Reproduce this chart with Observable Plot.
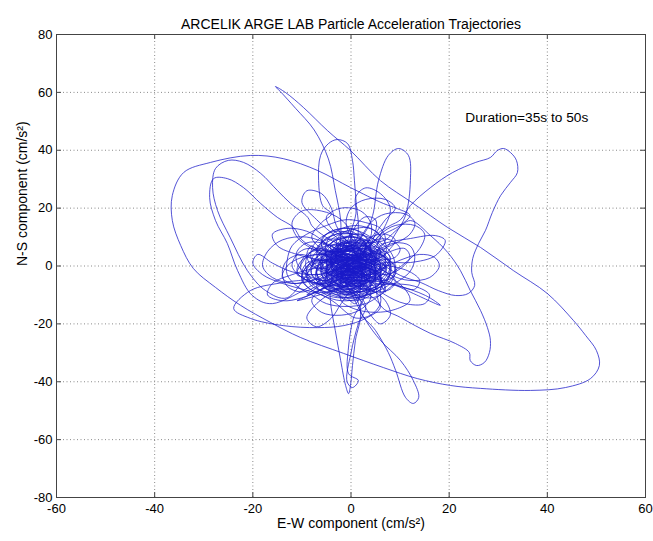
<!DOCTYPE html>
<html>
<head>
<meta charset="utf-8">
<script src="https://cdn.jsdelivr.net/npm/d3@7"></script>
<script src="https://cdn.jsdelivr.net/npm/@observablehq/plot@0.6"></script>
<style>
  html, body { margin: 0; padding: 0; background: #fff; }
</style>
</head>
<body>
<div id="chart"></div>
<script>
// ---- texts ----
const titleText = "ARCELIK ARGE LAB Particle Acceleration Trajectories";
const xLabel = "E-W component (cm/s²)";
const yLabel = "N-S component (cm/s²)";
const noteText = "Duration=35s to 50s";

// ---- axes ----
const xTicks = [-60, -40, -20, 0, 20, 40, 60];
const yTicks = [-80, -60, -40, -20, 0, 20, 40, 60, 80];

// ---- trajectory, [E-W, N-S] in cm/s^2, traced in order ----
// dense central tangle
const d1 = [[-2,1],[-4,3],[-3,6],[0,7],[2,5],[1,2],[-1,0],[-3,-2],[-2,-5],[1,-6],[4,-4],[5,-1],[3,2],[0,3],[-2,2],[-5,0],[-7,-2],[-6,-5],[-3,-7],[0,-6],[2,-3],[3,0],[5,3],[7,5],[8,2],[6,-2],[3,-3],[0,-1],[-2,3],[-3,7],[-1,10],[2,11],[4,8],[3,5],[0,4],[-3,3],[-6,4],[-8,7],[-9,4],[-8,0],[-5,-1],[-2,-2],[1,-2],[3,-5],[2,-8],[-1,-9],[-3,-6],[-4,-3],[-3,0],[0,1],[3,3],[6,2],[7,-1],[5,-5],[2,-6],[-1,-4],[-1,-1],[1,2],[4,5],[3,9]];
const d2 = [[1,9],[-2,8],[-4,5],[-5,2],[-4,-1],[-1,-3],[2,-4],[4,-2],[4,1],[2,4],[-1,5],[-4,4],[-6,1],[-6,-3],[-4,-6],[-1,-8],[3,-9],[6,-7],[8,-3],[8,1],[6,4],[3,6],[0,6],[-2,4],[-2,1],[0,-1],[2,0],[2,3],[0,5],[-3,6],[-6,8],[-9,8],[-11,5],[-11,1],[-9,-3],[-6,-5],[-3,-5],[0,-3],[1,0],[-1,2],[-4,1],[-5,-2],[-3,-4],[0,-4],[3,-2],[5,1],[6,5],[4,8],[1,8],[-1,6]];
const d3 = [[-2,3],[-1,0],[1,-2],[4,-3],[6,0],[5,3],[2,4],[-1,3],[-3,0],[-4,-4],[-2,-7],[1,-8],[4,-7],[5,-4],[3,-1],[0,0],[-3,1],[-6,3],[-7,6],[-5,9],[-2,9],[0,7],[1,4],[3,2],[6,3],[8,6],[9,9],[7,11],[4,10],[2,7],[1,3],[-1,-1],[-3,-4],[-5,-6],[-8,-6],[-10,-3],[-9,1],[-6,2],[-3,0],[0,-2],[3,-4],[5,-7],[4,-10],[1,-12],[-2,-11],[-3,-8],[-1,-5],[2,-4],[4,-1],[4,3]];
const d4 = [[2,5],[-1,6],[-3,4],[-3,1],[-1,-1],[2,-1],[3,1],[2,3],[-1,3],[-4,2],[-7,0],[-9,-3],[-8,-7],[-5,-9],[-2,-10],[1,-9],[2,-6],[0,-4],[-2,-2],[-2,1],[0,3],[3,5],[5,7],[6,10],[4,13],[1,13],[-2,11],[-3,8],[-2,5],[1,2],[4,0],[7,-2],[9,-5],[8,-8],[5,-9],[2,-7],[0,-4],[-1,0],[-3,3],[-5,5],[-8,5],[-10,2],[-10,-2],[-7,-3],[-4,-2],[-1,0],[1,2],[1,5],[-1,7],[-4,7]];
const d5 = [[-6,5],[-6,2],[-4,0],[-1,-1],[1,-3],[1,-6],[-1,-7],[-4,-6],[-5,-3],[-4,0],[-1,2],[2,3],[5,3],[7,1],[7,-2],[5,-4],[2,-4],[0,-2],[-1,1],[0,4],[3,6],[5,5],[5,2],[3,-1],[0,-3],[-3,-3],[-6,-1],[-8,2],[-8,6],[-6,10],[-3,12],[0,11],[1,8],[0,5],[-2,3],[-5,2],[-7,-1],[-7,-5],[-5,-8],[-2,-9],[1,-8],[3,-5],[3,-2],[1,0],[-1,-1],[-2,-4],[0,-6],[3,-6],[5,-3],[5,1]];
const d6 = [[4,4],[1,5],[-2,5],[-4,3],[-4,0],[-2,-2],[1,-2],[3,0],[3,3],[1,5],[-2,7],[-5,7],[-7,5],[-8,2],[-7,-1],[-4,-3],[-1,-4],[2,-5],[5,-5],[7,-3],[7,0],[5,2],[2,2],[0,0],[-1,-3],[-3,-5],[-6,-6],[-9,-5],[-11,-2],[-10,2],[-7,4],[-4,4],[-1,3],[2,1],[4,-1],[6,-4],[6,-8],[3,-10],[0,-10],[-2,-7],[-2,-4],[0,-1],[3,1],[6,2],[9,3],[10,6],[8,9],[5,9],[3,6],[2,3]];
const d7 = [[0,2],[-2,0],[-2,-3],[0,-5],[3,-5],[4,-2],[2,1],[-1,2],[-4,1],[-5,-1],[-4,-4],[-1,-6],[2,-7],[4,-6],[5,-3],[4,0],[1,1],[-2,0],[-4,-2],[-6,-4],[-7,-7],[-5,-10],[-2,-11],[1,-10],[2,-7],[1,-4],[-1,-2],[-3,1],[-4,4],[-3,7],[0,8],[3,7],[4,4],[3,1],[0,-1],[-3,0],[-5,3],[-5,6],[-3,9],[0,10],[3,9],[5,6],[7,3],[9,0],[9,-3],[7,-5],[4,-4],[2,-2],[0,0],[-2,2]];
const d8 = [[-3,4],[-2,7],[1,8],[3,6],[2,3],[0,1],[-3,-1],[-5,-3],[-5,-6],[-3,-8],[0,-8],[2,-5],[2,-2],[0,0],[-3,2],[-6,2],[-8,0],[-8,-3],[-6,-5],[-3,-4],[0,-2],[3,0],[5,2],[6,5],[5,8],[2,9],[-1,8],[-2,5],[-1,2],[1,0],[4,-1],[6,-3],[6,-6],[4,-8],[1,-9],[-2,-8],[-3,-5],[-2,-2],[1,-1],[3,1],[3,4],[1,6],[-2,6],[-4,4],[-4,1],[-2,-1],[1,-1],[3,-3],[3,-6],[1,-7]];
const d9 = [[-1,-6],[-2,-3],[-1,0],[1,2],[4,2],[6,0],[6,-3],[4,-5],[1,-5],[-2,-4],[-4,-1],[-4,2],[-2,5],[1,6],[4,5],[5,2],[4,-1],[2,-3],[-1,-3],[-3,-1],[-4,2],[-6,5],[-9,6],[-11,4],[-12,0],[-10,-4],[-7,-6],[-4,-7],[-1,-5],[0,-2],[-1,1],[-3,3],[-3,6],[-1,8],[2,8],[4,6],[5,3],[3,0],[0,-1],[-2,-3],[-1,-6],[2,-8],[5,-8],[7,-6],[8,-2],[7,2],[4,4],[1,3],[-1,1],[-2,-2]];
const d10 = [[-1,-4],[1,-4],[3,-2],[2,1],[0,2],[-3,2],[-5,0],[-5,-3],[-3,-6],[0,-7],[3,-6],[4,-3],[3,0],[1,2],[-2,3],[-4,5],[-4,8],[-2,10],[1,10],[3,8],[3,5],[1,2],[-1,-1],[-2,-4],[-4,-6],[-7,-6],[-9,-4],[-9,-1],[-7,1],[-4,1],[-1,0],[2,-1],[5,-2],[7,0],[8,3],[6,6],[3,7],[0,5],[-1,2],[0,-1],[2,-3],[5,-4],[7,-7],[6,-10],[3,-11],[0,-9],[-1,-6],[0,-3],[2,-1],[3,2]];
const d11 = [[3,3],[6,6],[9,8],[12,7],[13,3],[12,-2],[9,-6],[6,-10],[3,-13],[-1,-14],[-5,-13],[-8,-10],[-11,-7],[-13,-3],[-13,2],[-12,7],[-9,11],[-5,14],[-1,16],[3,15],[6,13],[7,9],[5,5],[2,2]];
const d12 = [[-1,0],[-4,-3],[-8,-5],[-12,-6],[-14,-4],[-13,0],[-10,3],[-6,4],[-2,3],[2,0],[6,-4],[10,-7],[13,-8],[14,-5],[12,-2],[8,0],[4,1],[1,4],[0,9],[1,14],[3,17],[5,16],[5,12],[3,7]];
const d13 = [[0,0],[-3,4],[-7,6],[-9,3],[-9,-2],[-7,-6],[-3,-9],[1,-10],[5,-8],[8,-5],[9,0],[8,5],[5,9],[1,11],[-3,11],[-6,8],[-5,4],[-2,1],[2,0],[5,-2],[6,-6],[3,-8],[0,-6],[-2,-3],[-1,1],[2,4],[5,5],[7,2],[6,-2]];
const d14 = [[4,-4],[1,-3],[-2,0],[-5,2],[-8,1],[-10,-3],[-9,-7],[-6,-10],[-2,-12],[2,-11],[4,-8],[3,-4],[0,-2],[-3,-1],[-5,3],[-5,8],[-3,12],[1,14],[5,12],[7,8],[7,4],[5,1],[2,-1],[-1,0],[-3,3],[-2,6],[1,7]];
const d15 = [[1,1],[-1,3],[-3,2],[-4,-1],[-2,-3],[1,-3],[2,-1],[1,2],[-2,4],[-5,5],[-6,2],[-5,-2],[-2,-4],[2,-5],[5,-3],[6,1],[4,4],[1,4],[-1,1],[0,-2],[3,-1],[4,2],[2,6],[-1,8],[-4,7],[-5,4],[-3,1],[0,-1],[3,-3],[4,-6],[2,-9],[-2,-9],[-4,-6],[-3,-3],[0,-1],[2,1],[0,3]];
const d16 = [[-1,2],[-3,0],[-2,-3],[1,-4],[3,-1],[2,2],[-1,3],[-3,5],[-2,8],[1,9],[3,7],[2,4],[0,2],[-2,0],[-4,-3],[-6,-6],[-4,-8],[-1,-7],[1,-5],[4,-5],[6,-3],[5,0],[3,1],[1,-1],[-1,-4],[-3,-6],[-5,-4],[-6,0],[-4,3],[-1,4],[2,3],[3,0]];

// medium loops around the tangle
const m1 = [[0,3],[-4,7],[-9,10],[-14,9],[-17,5],[-18,0],[-16,-4],[-12,-6],[-8,-5],[-5,-2],[-3,2],[-1,6],[0,11],[-2,16],[-6,19],[-10,19],[-12,15],[-11,10],[-8,6],[-4,3],[0,1],[4,-1],[8,-4],[11,-8],[12,-12],[9,-15],[5,-16],[1,-15],[-2,-12],[-2,-8],[0,-5]];
const m2 = [[2,-3],[6,-1],[10,2],[14,4],[17,3],[18,0],[16,-4],[12,-5],[8,-3],[5,1],[4,6],[5,11],[7,16],[9,20],[7,23],[3,23],[0,20],[-1,15],[0,10],[2,5],[1,0],[-2,-4],[-6,-8],[-10,-11],[-14,-12],[-17,-10],[-16,-6],[-12,-3],[-8,-1],[-4,0]];
const m3 = [[0,2],[-2,1],[-6,2],[-11,4],[-15,7],[-16,11],[-13,13],[-9,12],[-6,9],[-3,4],[0,-1],[3,-6],[4,-11],[2,-15],[-2,-17],[-6,-16],[-8,-12],[-6,-8],[-2,-6],[3,-5],[8,-6],[13,-7],[16,-10],[15,-13],[11,-13],[7,-10],[4,-6],[2,-1],[1,4],[-1,9],[-4,13],[-5,17],[-2,20],[2,19],[4,15],[4,10],[2,5]];
const m4 = [[0,2],[-3,-1],[-7,-3],[-12,-2],[-16,1],[-19,4],[-20,1],[-18,-3],[-14,-6],[-10,-8],[-6,-10],[-3,-13],[-1,-16],[1,-18],[4,-17],[6,-13],[6,-8],[8,-3],[11,1],[14,6],[15,11],[13,14],[9,14],[6,11],[4,7],[2,4]];
const m5 = [[1,2],[4,4],[8,7],[12,11],[13,15],[11,18],[7,18],[4,15],[2,10],[0,6],[-3,3],[-7,2],[-10,4],[-13,2],[-14,-2],[-13,-7],[-10,-9],[-7,-7],[-4,-4],[-1,-2],[3,-2],[7,-3],[10,-1],[12,3],[11,6],[8,5],[5,2],[2,0]];
const m6 = [[0,5],[-3,10],[-7,16],[-10,22],[-9,26],[-6,25],[-4,20],[-3,14],[-1,9],[2,6],[5,9],[7,14],[8,20],[6,25],[3,27],[1,24],[1,18],[0,12],[-1,6]];
const m7 = [[0,-3],[-3,-8],[-7,-13],[-9,-18],[-7,-21],[-4,-18],[-2,-13],[0,-9],[2,-12],[4,-17],[6,-20],[8,-17],[7,-12],[4,-8],[1,-5]];

// tangle leading into excursions
const c1 = [[0,0],[3,2],[5,-1],[3,-4],[-1,-5],[-4,-2],[-5,2],[-2,6],[2,7],[6,5],[8,1],[7,-4],[4,-8],[-1,-9],[-5,-7],[-8,-3],[-7,3],[-4,8],[0,10],[3,8],[4,4],[2,1],[-1,2],[-3,4],[-6,6],[-8,10],[-6,15],[-4,18]];
const c2 = [[2,9],[4,5],[7,3],[9,-1],[8,-6],[5,-9],[1,-11],[-3,-10],[-6,-6],[-7,-1],[-5,4],[-2,6],[1,4],[2,0],[0,-3],[-3,-2],[-4,1],[-2,3],[2,3],[5,6],[6,10],[10,14],[12,17.5],[9.5,19.8]];
const c3 = [[-1,10],[-3,6],[-6,3],[-9,0],[-10,-5],[-7,-9],[-3,-8],[0,-5],[2,-1],[1,3],[-2,4],[-4,1],[-3,-3],[1,-4],[5,-2],[7,2],[6,7],[3,11],[-1,13],[-5,11],[-6,7],[-3,5],[1,6],[4,9],[6,12],[8,14]];
const c4 = [[7,-1],[4,2],[0,4],[-4,5],[-7,3],[-9,-1],[-8,-6],[-4,-10],[1,-11],[5,-8],[6,-4],[4,0],[1,1],[-2,-1],[-3,-4],[-1,-7],[3,-6],[5,-2],[4,3],[1,6],[-3,8],[-6,11],[-8,14],[-8.8,16.8]];
const c5 = [[-9,-10],[-5,-7],[-2,-3],[0,1],[3,4],[6,4],[8,0],[7,-5],[3,-7],[-1,-6],[-4,-3],[-5,1],[-3,5],[0,7],[4,8],[7,9],[9,12],[12.1,15.7]];
const c6 = [[3,-10],[0,-7],[-3,-4],[-6,-1],[-6,3],[-3,6],[0,5],[2,2],[1,-2],[-2,-3],[-5,-1],[-7,4],[-6,8],[-3,11],[0,12],[2,9],[0,6],[-3,5],[-7,6],[-10,9],[-11.7,13.3]];
const c7 = [[-11,-12],[-7,-9],[-3,-6],[1,-5],[4,-2],[5,2],[3,5],[-1,5],[-4,2],[-5,-2],[-3,-6],[0,-8],[2,-6],[1,-3],[-2,-1],[-4,-5],[-4.2,-11.9]];
const c8 = [[3,-8],[5,-3],[4,2],[1,5],[-3,5],[-6,2],[-7,-3],[-5,-8],[-1,-10],[2,-12],[0.5,-18],[-0.5,-28],[-0.5,-37.2],[1.5,-39.6],[0.3,-42.0],[-0.8,-40],[0,-30],[1.5,-20],[3,-14],[1,-9],[-2,-6],[-1,-2],[2,0],[5,-3],[4,-7],[1.9,-15.4]];
const c9 = [[1,-13],[-2,-9],[-5,-6],[-6,-1],[-4,3],[0,4],[3,1],[4,-3],[2,-6],[-1,-5],[-3,-2],[-2,2],[1,3],[3,6],[2,10],[-2,11],[-5,8],[-8,5],[-10,1],[-11,-3],[-8.2,-4.3]];
const c10 = [[7,-9],[6,-4],[3,0],[0,2],[-3,1],[-5,-3],[-4,-7],[0,-8],[3,-5],[4,-1],[2,3],[-1,4],[-4,6],[-6,9],[-4,12],[0,13],[3,10],[4,6],[6,-1],[6.0,-5.0]];
const c11 = [[2,-4],[-1,-1],[-2,3],[0,6],[3,7],[5,4],[6.0,7.1]];
const c12 = [[3,-1],[0,-3],[-3,-2],[-4,2],[-2,5],[1,8],[3,12],[4.4,17.4]];
const c13 = [[7,6],[4,3],[1,0],[-2,-2],[-4,0],[-3,3],[0,2],[2,-1],[0,-4],[-3,-5]];

// large excursions
const upperLoop = [[-5.8,20.9],[-6.6,29.5],[-6.2,38.2],[-4.6,42.3],[-2.8,43.7],[-0.7,42.3],[0.3,36.5],[0.7,29.5],[1.1,20.9],[1.5,14]];
const bigLoop = [[6.6,21.6],[-0.1,27.1],[-6.8,33.0],[-13.8,37.1],[-20.5,38.2],[-28.6,35.8],[-34.1,32.3],[-36.4,24.4],[-36.4,15.7],[-34.7,7.1],[-32.1,-0.9],[-27.6,-7.4],[-22.5,-13.6],[-16.4,-19.5],[-10.3,-24.7],[-1.5,-30.2],[6.6,-35.1],[13.5,-38.9],[20.3,-41.3],[26.4,-42.3],[36.6,-43.0],[43.7,-42.0],[48.8,-38.9],[50.6,-34.4],[50.0,-29.2],[47.8,-24.0],[45.3,-18.8],[40.0,-9.5],[33.1,-1.6],[26.4,6.4],[19.7,13.3],[12.7,21.6],[6.0,29.5],[-0.1,39.9],[-4.8,46.8],[-9.7,54.8],[-13.3,59.9],[-15.4,62.0],[-14.4,60.3],[-11.3,54.5],[-7.5,47],[-4.6,37],[-3.2,26.1],[-2.1,15.7]];
const dogHead = [[10.1,16],[12.1,20.9],[16.2,27.1],[20.7,32.3],[25.4,35.8],[28.4,37.5],[29.8,39.9],[31.1,40.6],[32.5,39.2],[33.7,36.5],[33.9,32.3],[32.5,28.9],[30.5,24.4],[28.8,18.5],[27.4,12.3],[26.0,7.8],[24.8,2.6],[24.6,-2.2],[25.2,-6.7],[23.9,-9.5],[21.3,-10.2],[17.8,-8.5],[14.2,-5.7],[10.1,-3.3]];
const leftLoopOuter = [[-12.3,21.6],[-15.0,26.1],[-18.4,32.0],[-21.9,35.8],[-25.0,36.5],[-27.6,33.7],[-28.2,27.1],[-27.2,19.2],[-24.6,9.8],[-21.1,-1.6],[-17.4,-8.5],[-13,-11]];
const bootLoop = [[16.2,10.5],[19.7,4.7],[22.3,-1.6],[24.3,-8.5],[26.4,-15.4],[27.8,-21.3],[28.4,-25.7],[28.2,-29.9],[27.2,-33.3],[25.6,-34.4],[24.3,-32.7],[24.1,-29.9],[21.3,-26.8],[16.2,-23.3],[10.1,-17.8],[6.0,-13.6]];
const leftLoopInner = [[-15.0,16.8],[-18.4,21.6],[-21.9,27.1],[-25.2,30.2],[-28.0,30.2],[-28.8,23.7],[-27.6,15.7],[-25.2,7.8],[-23.1,-1.6],[-20.1,-10.2],[-16,-13]];
const bottomSpike = [[-3.2,-22.3],[-2.1,-32.7],[-1.1,-41.3],[-0.5,-44.1],[-0.1,-41.3],[0.3,-34.4],[0.9,-25.7],[1.9,-15.4]];
const dropLoop = [[5.0,-22.3],[7.6,-29.9],[9.1,-36.1],[11.1,-45.4],[12.7,-47.5],[13.8,-45.4],[12.7,-39.6],[10.1,-32.7],[6.0,-25.7],[3.0,-18.8]];
const lowerLeftLoop = [[-13.8,-5.7],[-20.5,-8.5],[-23.9,-14.7],[-20.5,-18.1],[-13.8,-20.6],[-6.8,-21.3],[-1.5,-20.6],[3.0,-18.1],[6,-14]];
const rightSpike = [[9.1,-6.7],[12.7,-9.5],[18.2,-13.6],[15.2,-10.2],[9.1,-6.7],[5,-6]];
const rightLoop = [[12.1,9.5],[17.2,10.5],[19.2,8.8],[17.2,3.6],[12.1,1.2],[7.0,1.2]];
const topRightLoop = [[5.6,29.5],[7.6,38.2],[9.7,40.6],[11.7,38.2],[12.1,29.5],[11.1,17.4],[9,11]];

const path = [].concat(
  d1, m1, d16, c1, upperLoop, d2, m6, c2, bigLoop, d3, m2, c3, dogHead, d4, c4, leftLoopOuter,
  d5, d11, c5, bootLoop, d6, m3, c6, leftLoopInner, d7, d13, c7, bottomSpike,
  d8, m4, c8, dropLoop, d9, m7, d12, c9, lowerLeftLoop, d10, m5, d14, c10, rightSpike,
  c11, rightLoop, c12, topRightLoop, c13, d15);

const xDomain = [xTicks[0], xTicks[xTicks.length - 1]];
const yDomain = [yTicks[0], yTicks[yTicks.length - 1]];
const tx = 1.0, ty = 1.7; // inward tick length in data units

const chart = Plot.plot({
  width: 653,
  height: 541,
  marginLeft: 56,
  marginRight: 8,
  marginTop: 34,
  marginBottom: 44,
  style: { fontFamily: "'Liberation Sans', Arial, sans-serif", fontSize: "13px", color: "#000", background: "#fff" },
  x: { domain: xDomain, ticks: xTicks, tickSize: 0, tickPadding: 6, label: null, tickFormat: d => String(d) },
  y: { domain: yDomain, ticks: yTicks, tickSize: 0, tickPadding: 4, label: null, tickFormat: d => String(d) },
  marks: [
    Plot.ruleX(xTicks, { stroke: "#8a8a8a", strokeDasharray: "1,2.5", strokeWidth: 1 }),
    Plot.ruleY(yTicks, { stroke: "#8a8a8a", strokeDasharray: "1,2.5", strokeWidth: 1 }),
    Plot.line(path, { x: d => d[0], y: d => d[1], curve: "catmull-rom", stroke: "#1a1ac8", strokeWidth: 0.75 }),
    Plot.ruleX(xTicks, { y1: yDomain[0], y2: yDomain[0] + ty, stroke: "#444" }),
    Plot.ruleX(xTicks, { y1: yDomain[1], y2: yDomain[1] - ty, stroke: "#444" }),
    Plot.ruleY(yTicks, { x1: xDomain[0], x2: xDomain[0] + tx, stroke: "#444" }),
    Plot.ruleY(yTicks, { x1: xDomain[1], x2: xDomain[1] - tx, stroke: "#444" }),
    Plot.frame({ stroke: "#444" }),
    Plot.text([noteText], { x: 23.3, y: 51.3, text: d => d, textAnchor: "start", fontSize: 13.7, fill: "#000" }),
    Plot.text([titleText], { frameAnchor: "top", dy: -15, text: d => d, fontSize: 14, fill: "#000" }),
    Plot.text([xLabel], { frameAnchor: "bottom", dy: 30, text: d => d, fontSize: 14, fill: "#000" }),
    Plot.text([yLabel], { frameAnchor: "left", dx: -34, rotate: -90, text: d => d, fontSize: 14, fill: "#000" })
  ]
});
document.getElementById("chart").appendChild(chart);
</script>
</body>
</html>
